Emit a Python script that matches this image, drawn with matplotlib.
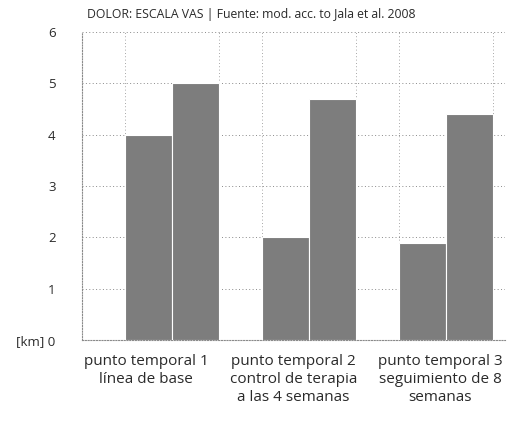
#!/usr/bin/env python3
import numpy as np
import matplotlib
matplotlib.use("Agg")
import matplotlib.pyplot as plt

plt.rcParams["font.family"] = ["Open Sans", "DejaVu Sans"]

TITLE = "DOLOR: ESCALA VAS | Fuente: mod. acc. to Jala et al. 2008"
CATEGORIES = [
    "punto temporal 1\nlínea de base",
    "punto temporal 2\ncontrol de terapia\na las 4 semanas",
    "punto temporal 3\nseguimiento de 8\nsemanas",
]
SERIES_A = [4.0, 2.0, 1.9]
SERIES_B = [5.0, 4.7, 4.4]
YTICKS = [0, 1, 2, 3, 4, 5, 6]
YTICK_LABELS = ["[km] 0", "1", "2", "3", "4", "5", "6"]

BAR_COLOR = "#7d7d7d"
GRID_COLOR = "#8a8a8a"
TEXT_COLOR = "#2a2a2a"
WIDTH = 0.342
# category labels sit a little left of their bar groups and spread wider
LABEL_STEP = 1.074
LABEL_OFFSET = -0.19


def main():
    fig = plt.figure(figsize=(5.09, 4.22), dpi=100)
    ax = fig.add_axes([0.161, 0.194, 0.831, 0.730])

    x = np.arange(len(CATEGORIES))
    ax.bar(x - WIDTH / 2, SERIES_A, WIDTH, color=BAR_COLOR, edgecolor="white",
           linewidth=0.8, zorder=3)
    ax.bar(x + WIDTH / 2, SERIES_B, WIDTH, color=BAR_COLOR, edgecolor="white",
           linewidth=0.8, zorder=3)

    ax.set_xlim(-0.66, 2.43)
    ax.set_ylim(0, 6)

    # dotted grid, with faint verticals at the outer edges of each group
    ax.set_yticks(YTICKS)
    ax.set_yticklabels(YTICK_LABELS)
    ax.grid(axis="y", color=GRID_COLOR, linestyle=(0, (1, 2.5)), linewidth=0.7, zorder=0)
    for xe in np.concatenate([x - WIDTH, x + WIDTH]):
        ax.axvline(xe, color=GRID_COLOR, linestyle=(0, (1, 3)), linewidth=0.6, zorder=0)

    for side in ("top", "right"):
        ax.spines[side].set_visible(False)
    for side in ("left", "bottom"):
        ax.spines[side].set_color(GRID_COLOR)
        ax.spines[side].set_linestyle((0, (1, 1.5)))
        ax.spines[side].set_linewidth(0.8)

    ax.set_xticks(x * LABEL_STEP + LABEL_OFFSET)
    ax.set_xticklabels(CATEGORIES, linespacing=1.25)
    ax.tick_params(axis="x", length=0, pad=10, labelsize=11, labelcolor=TEXT_COLOR)
    ax.tick_params(axis="y", length=0, pad=19, labelsize=9.5, labelcolor=TEXT_COLOR)
    for lbl in ax.get_xticklabels():
        lbl.set_verticalalignment("top")

    fig.text(0.171, 0.965, TITLE, fontsize=8.8, color=TEXT_COLOR, ha="left", va="center")

    fig.savefig("out.png", dpi=100, facecolor="white")
    plt.close(fig)


if __name__ == "__main__":
    main()
